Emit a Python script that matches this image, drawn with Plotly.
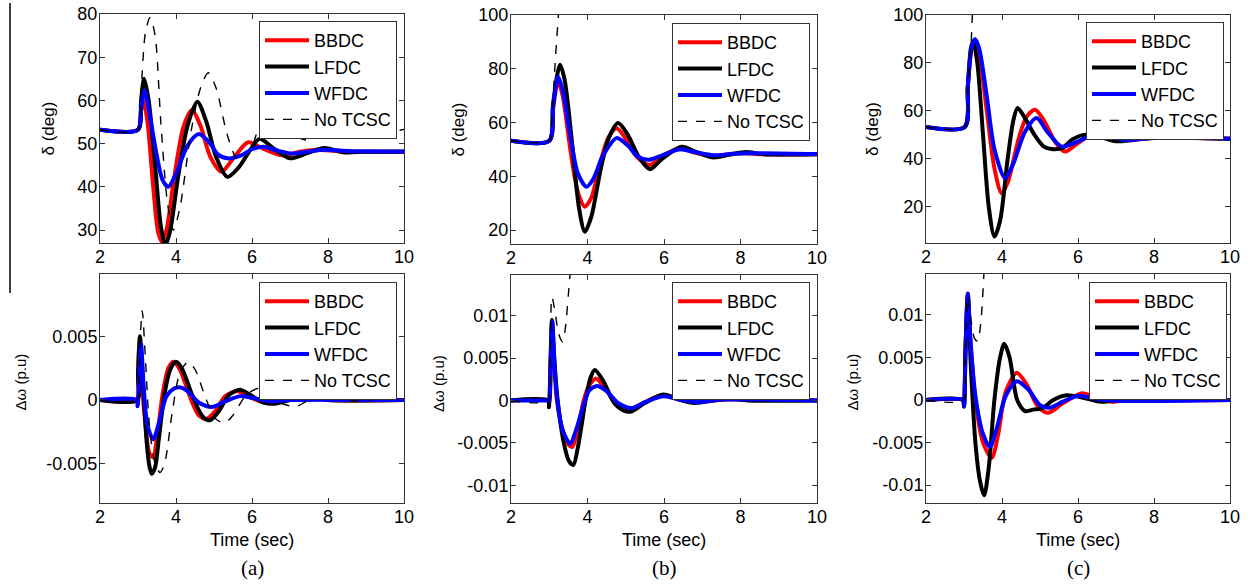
import plotly.graph_objects as go

# ---- data: (time [s], value) pairs ----
# panel (a) rotor angle delta (deg)
A_DELTA_BBDC = [(2, 53.2), (3.0, 53.2), (3.07, 57), (3.14, 60), (3.25, 55), (3.4, 40), (3.53, 29.5), (3.63, 27.3),
                (3.75, 30), (3.95, 42), (4.2, 54), (4.42, 57.8), (4.65, 54), (4.9, 47), (5.2, 43.5), (5.5, 46.5),
                (5.9, 50.3), (6.3, 48.8), (6.8, 47.3), (7.3, 48.2), (7.7, 48.6), (8.3, 48.2), (9, 48.1), (10, 48.1)]
A_DELTA_LFDC = [(2, 53.2), (3.0, 53.2), (3.08, 60), (3.16, 65), (3.28, 60), (3.45, 45), (3.6, 31), (3.72, 26.5),
                (3.85, 30), (4.05, 42), (4.3, 54), (4.56, 59.7), (4.8, 55), (5.05, 47), (5.35, 42.3), (5.65, 44.5),
                (5.95, 48.5), (6.2, 51.1), (6.55, 49), (7.0, 46.6), (7.45, 47.8), (7.9, 49), (8.4, 48), (9, 48.1),
                (10, 48.1)]
A_DELTA_WFDC = [(2, 53.2), (3.0, 53.2), (3.08, 58), (3.17, 62.3), (3.3, 57), (3.5, 47), (3.65, 41.5), (3.8, 40),
                (4.0, 43), (4.3, 49.5), (4.6, 52.2), (4.9, 50), (5.1, 47.5), (5.35, 46.6), (5.7, 47.2), (6.0, 48.7),
                (6.3, 49.3), (6.7, 48.3), (7.05, 47.7), (7.5, 48.2), (7.9, 48.6), (8.5, 48.3), (10, 48.2)]
A_DELTA_NOTCSC = [(2, 53.2), (3.0, 53.2), (3.08, 62), (3.2, 76), (3.32, 79.2), (3.45, 75), (3.6, 55), (3.78, 36),
                  (3.93, 30), (4.1, 35), (4.4, 53), (4.65, 63), (4.85, 66.4), (5.05, 63), (5.35, 52), (5.6, 46.5),
                  (5.77, 46.2), (5.95, 48), (6.2, 54), (6.5, 57), (6.8, 55.5), (7.1, 52), (7.48, 50.8), (7.9, 52.5),
                  (8.45, 54.5), (8.9, 53.5), (9.32, 52.4), (9.7, 52.8), (10, 53.3)]

# panel (a) speed deviation (p.u)
A_DW_BBDC = [(2, 0), (2.97, 0), (3.0, 0.0015), (3.03, 0.004), (3.08, 0.002), (3.2, -0.002), (3.3, -0.0042),
             (3.4, -0.0045), (3.5, -0.003), (3.65, 0.0005), (3.8, 0.0025), (3.93, 0.003), (4.1, 0.0024), (4.4, 0.0),
             (4.6, -0.0012), (4.8, -0.0015), (5.0, -0.001), (5.3, 0.0003), (5.6, 0.0007), (5.9, 0.0003),
             (6.2, -0.0001), (6.5, -0.0002), (7.0, 0.0), (7.5, 0.0002), (8, 0.0), (10, 0)]
A_DW_LFDC = [(2, 0), (2.98, 0), (3.0, 0.002), (3.05, 0.005), (3.12, 0.002), (3.22, -0.003), (3.3, -0.0052),
             (3.36, -0.0058), (3.45, -0.0053), (3.55, -0.003), (3.7, 0.0005), (3.85, 0.0024), (4.0, 0.003),
             (4.15, 0.0025), (4.45, 0.0002), (4.7, -0.0013), (4.89, -0.0016), (5.1, -0.001), (5.4, 0.0004),
             (5.68, 0.0008), (5.95, 0.0004), (6.3, -0.0002), (6.6, -0.0003), (7.0, 0.0), (7.5, 0.0002), (8, 0.0),
             (10, 0)]
A_DW_WFDC = [(2, 0), (2.96, 0), (2.99, -0.0005), (3.02, 0.001), (3.08, 0.0044), (3.15, 0.001), (3.25, -0.002),
             (3.4, -0.0031), (3.55, -0.0018), (3.75, 0.0003), (3.95, 0.0009), (4.1, 0.001), (4.3, 0.0007),
             (4.6, -0.0002), (4.94, -0.00055), (5.3, -0.0001), (5.7, 0.0003), (6.1, 0.0001), (6.5, -0.0001),
             (7, 0.0), (10, 0)]
A_DW_NOTCSC = [(2, 0), (2.98, 0), (3.02, 0.002), (3.11, 0.007), (3.2, 0.003), (3.3, -0.002), (3.45, -0.005),
               (3.58, -0.0057), (3.7, -0.005), (3.9, -0.001), (4.1, 0.0021), (4.32, 0.003), (4.5, 0.0024),
               (4.8, 0.0), (5.05, -0.0015), (5.29, -0.0018), (5.5, -0.0012), (5.85, 0.0004), (6.17, 0.0009),
               (6.5, 0.0003), (6.8, -0.0003), (7.17, -0.0005), (7.5, 0.0), (7.9, 0.0003), (8.3, 0.0001),
               (8.8, -0.0001), (9.3, 0.0001), (10, 0)]

# panel (b)
B_DELTA_BBDC = [(2, 53.2), (3.0, 53.2), (3.1, 65), (3.23, 75.3), (3.35, 70), (3.55, 50), (3.75, 34), (3.93, 28.7),
                (4.1, 32), (4.35, 46), (4.55, 54.5), (4.76, 57.9), (5.0, 54), (5.3, 47), (5.63, 44.2), (5.95, 47.5),
                (6.41, 50.4), (6.8, 48.8), (7.25, 47.5), (7.7, 48.2), (8.1, 48.6), (8.6, 48.2), (10, 48.2)]
B_DELTA_LFDC = [(2, 53.2), (3.0, 53.2), (3.1, 67), (3.28, 81.5), (3.4, 76), (3.6, 52), (3.78, 28), (3.93, 19.4),
                (4.1, 25), (4.35, 43), (4.55, 54), (4.8, 59.8), (5.05, 55.5), (5.35, 47), (5.63, 42.6), (5.95, 46.5),
                (6.46, 51), (6.85, 49), (7.3, 47), (7.7, 48), (8.15, 49), (8.6, 48.2), (10, 48.2)]
B_DELTA_WFDC = [(2, 53.2), (3.0, 53.2), (3.1, 66), (3.23, 77.1), (3.35, 72), (3.55, 55), (3.75, 41), (3.97, 36.1),
                (4.15, 39), (4.4, 47.5), (4.76, 54.2), (5.05, 51.5), (5.3, 47.5), (5.6, 46.1), (5.95, 47.8),
                (6.4, 50), (6.8, 49), (7.3, 47.8), (7.8, 48.4), (8.2, 48.6), (10, 48.3)]
B_DELTA_NOTCSC = [(2, 53.2), (3.0, 53.2), (3.06, 60), (3.14, 79), (3.2, 92), (3.24, 100), (3.27, 110)]

B_DW_BBDC = [(2, 0), (2.97, 0), (3.0, -0.0003), (3.03, 0.004), (3.07, 0.0085), (3.12, 0.005), (3.2, 0.0),
             (3.35, -0.0035), (3.5, -0.0052), (3.6, -0.0055), (3.72, -0.004), (3.9, 0.0), (4.05, 0.0018),
             (4.22, 0.0026), (4.45, 0.0015), (4.75, -0.0004), (5.1, -0.0011), (5.5, -0.0002), (5.95, 0.0006),
             (6.4, 0.0001), (6.8, -0.0002), (7.3, 0.0), (7.7, 0.0001), (10, 0)]
B_DW_LFDC = [(2, 0), (2.97, 0), (2.99, -0.0008), (3.02, 0.002), (3.07, 0.0095), (3.13, 0.005), (3.22, 0.0),
             (3.38, -0.005), (3.52, -0.0072), (3.63, -0.0076), (3.75, -0.0055), (3.95, 0.0), (4.08, 0.0027),
             (4.19, 0.0036), (4.4, 0.0024), (4.7, -0.0003), (4.95, -0.0012), (5.15, -0.0013), (5.5, -0.0003),
             (5.98, 0.0007), (6.4, 0.0001), (6.8, -0.0003), (7.3, 0.0), (7.7, 0.0002), (8.2, 0), (10, 0)]
B_DW_WFDC = [(2, 0), (2.97, 0), (3.0, 0.0), (3.04, 0.005), (3.08, 0.0093), (3.13, 0.005), (3.2, 0.0005),
             (3.35, -0.0035), (3.55, -0.0051), (3.7, -0.0035), (3.9, -0.0005), (4.05, 0.0012), (4.25, 0.0017),
             (4.5, 0.0011), (4.8, -0.0003), (5.15, -0.0009), (5.5, -0.0002), (6.0, 0.0005), (6.4, 0.0001),
             (6.9, -0.0002), (7.5, 0.0001), (10, 0)]
B_DW_NOTCSC = [(2, 0), (2.98, 0), (3.02, 0.004), (3.07, 0.0122), (3.15, 0.0105), (3.25, 0.0078), (3.35, 0.0069),
               (3.42, 0.0085), (3.5, 0.0125), (3.56, 0.016), (3.6, 0.02)]

# panel (c)
C_DELTA_BBDC = [(2, 53.2), (3.02, 53.2), (3.1, 70), (3.2, 86), (3.29, 89.7), (3.4, 84), (3.6, 60), (3.8, 36),
                (3.99, 25.5), (4.15, 30), (4.45, 49), (4.65, 57.5), (4.87, 60.4), (5.1, 56), (5.4, 47), (5.66, 42.9),
                (6.0, 46.5), (6.49, 50.9), (6.9, 49), (7.3, 47.5), (7.8, 48.5), (8.2, 48.8), (10, 48.3)]
C_DELTA_LFDC = [(2, 53.2), (3.02, 53.2), (3.1, 70), (3.18, 86), (3.24, 89), (3.35, 80), (3.5, 50), (3.65, 20),
                (3.8, 7.4), (3.95, 14), (4.15, 40), (4.3, 56), (4.41, 61.1), (4.6, 57), (4.85, 50), (5.1, 45),
                (5.3, 44), (5.6, 44.5), (5.85, 48), (6.14, 49.9), (6.5, 49.5), (7.0, 47.2), (7.5, 48), (8.0, 48.6),
                (10, 48.3)]
C_DELTA_WFDC = [(2, 53.2), (3.02, 53.2), (3.1, 70), (3.2, 86.5), (3.29, 90), (3.4, 86), (3.6, 66), (3.8, 44),
                (4.08, 31.8), (4.3, 38), (4.6, 51), (4.91, 56.9), (5.2, 51), (5.57, 45), (5.9, 46.5), (6.49, 50.3),
                (6.9, 49), (7.2, 47.8), (7.8, 48.4), (8.2, 48.8), (10, 48.3)]
C_DELTA_NOTCSC = [(2, 53.2), (3.02, 53.2), (3.1, 70), (3.18, 86), (3.22, 100), (3.26, 115)]

C_DW_BBDC = [(2, 0), (2.97, 0), (3.0, -0.0005), (3.04, 0.006), (3.1, 0.0125), (3.17, 0.007), (3.3, 0.0),
             (3.5, -0.005), (3.73, -0.0068), (3.9, -0.004), (4.1, 0.001), (4.39, 0.0032), (4.65, 0.0018),
             (4.95, -0.0008), (5.22, -0.0015), (5.6, -0.0004), (6.1, 0.0008), (6.5, 0.0002), (6.9, -0.0002),
             (7.5, 0.0002), (8, 0), (10, 0)]
C_DW_LFDC = [(2, 0), (2.97, 0), (3.0, -0.0008), (3.04, 0.006), (3.1, 0.012), (3.18, 0.004), (3.3, -0.005),
             (3.42, -0.0095), (3.53, -0.0112), (3.65, -0.008), (3.8, 0.0), (3.95, 0.005), (4.06, 0.0066),
             (4.2, 0.005), (4.4, 0.0), (4.61, -0.0013), (4.85, -0.0011), (5.05, -0.001), (5.35, 0.0),
             (5.7, 0.00055), (6.1, 0.0003), (6.6, -0.0002), (7.2, 0.0001), (8, 0), (10, 0)]
C_DW_WFDC = [(2, 0), (2.97, 0), (3.0, -0.0007), (3.04, 0.006), (3.1, 0.0125), (3.17, 0.007), (3.3, 0.0005),
             (3.5, -0.004), (3.68, -0.0055), (3.85, -0.0035), (4.1, 0.0005), (4.39, 0.0022), (4.7, 0.0012),
             (5.0, -0.0006), (5.25, -0.0009), (5.6, -0.0002), (6.0, 0.0005), (6.5, 0.0001), (7.0, -0.0001), (10, 0)]
C_DW_NOTCSC = [(2, 0), (2.98, 0), (3.03, 0.004), (3.1, 0.0122), (3.18, 0.0095), (3.28, 0.0072), (3.36, 0.0069),
               (3.44, 0.009), (3.52, 0.0145), (3.56, 0.019)]

SERIES_NAMES = ['BBDC', 'LFDC', 'WFDC', 'No TCSC']
SERIES_COLORS = ['#ff0000', '#000000', '#0000ff', '#000000']

PANELS = [
    [A_DELTA_BBDC, A_DELTA_LFDC, A_DELTA_WFDC, A_DELTA_NOTCSC],
    [A_DW_BBDC, A_DW_LFDC, A_DW_WFDC, A_DW_NOTCSC],
    [B_DELTA_BBDC, B_DELTA_LFDC, B_DELTA_WFDC, B_DELTA_NOTCSC],
    [B_DW_BBDC, B_DW_LFDC, B_DW_WFDC, B_DW_NOTCSC],
    [C_DELTA_BBDC, C_DELTA_LFDC, C_DELTA_WFDC, C_DELTA_NOTCSC],
    [C_DW_BBDC, C_DW_LFDC, C_DW_WFDC, C_DW_NOTCSC],
]

W, H = 1249, 588
FONT = 'Liberation Sans, Arial, sans-serif'

# pixel boxes of each axes: left, right, top, bottom
BOXES = [
    (100, 404, 14, 243), (100, 404, 274, 503),
    (511, 817, 15, 244), (511, 817, 275, 503),
    (926, 1230, 15, 243), (926, 1230, 274, 503),
]
Y_RANGES = [[27, 80], [-0.0081, 0.0099], [14.8, 100], [-0.0121, 0.0148], [4.7, 100], [-0.0121, 0.0148]]
Y_TICKS = [[30, 40, 50, 60, 70, 80], [-0.005, 0, 0.005, 0.01], [20, 40, 60, 80, 100],
           [-0.01, -0.005, 0, 0.005, 0.01], [20, 40, 60, 80, 100], [-0.01, -0.005, 0, 0.005, 0.01]]
Y_TICKTEXT = [['30', '40', '50', '60', '70', '80'], ['-0.005', '0', '0.005', '0.01'], ['20', '40', '60', '80', '100'],
              ['-0.01', '-0.005', '0', '0.005', '0.01'], ['20', '40', '60', '80', '100'],
              ['-0.01', '-0.005', '0', '0.005', '0.01']]
# legend boxes (right, top) in pixels
LEGEND_POS = [(397, 21), (397, 282), (810, 23), (810, 282), (1224, 22), (1227, 282)]
YTITLE_X = [48, 20, 458, 438, 873, 852]

fig = go.Figure()
layout = dict(width=W, height=H, margin=dict(l=0, r=0, t=0, b=0, autoexpand=False),
              paper_bgcolor='white', plot_bgcolor='white', showlegend=True,
              font=dict(family=FONT, color='black'))
annotations = []

for i, series in enumerate(PANELS):
    k = i + 1
    xa = 'x' if k == 1 else f'x{k}'
    ya = 'y' if k == 1 else f'y{k}'
    lg = 'legend' if k == 1 else f'legend{k}'
    for j, pts in enumerate(series):
        dashed = j == 3
        fig.add_trace(go.Scatter(
            x=[p[0] for p in pts], y=[p[1] for p in pts],
            mode='lines', name=SERIES_NAMES[j], xaxis=xa, yaxis=ya, legend=lg,
            line=dict(color=SERIES_COLORS[j], width=1.4 if dashed else 4,
                      dash='dash' if dashed else 'solid', shape='spline', smoothing=0.8),
            hoverinfo='skip'))

    left, right, top, bottom = BOXES[i]
    axis_common = dict(showline=True, linecolor='#333', linewidth=1, mirror='ticks', ticks='inside',
                       ticklen=5, tickcolor='#333', showgrid=False, zeroline=False, automargin=False,
                       tickfont=dict(size=18, family=FONT, color='black'))
    layout['xaxis' if k == 1 else f'xaxis{k}'] = dict(
        axis_common, domain=[left / W, right / W], range=[2, 10], tickvals=[2, 4, 6, 8, 10],
        anchor=ya, ticklabelstandoff=-3)
    layout['yaxis' if k == 1 else f'yaxis{k}'] = dict(
        axis_common, domain=[1 - bottom / H, 1 - top / H], range=Y_RANGES[i], tickvals=Y_TICKS[i],
        ticktext=Y_TICKTEXT[i], anchor=xa, ticklabelstandoff=-2)

    lx, ly = LEGEND_POS[i]
    layout[lg] = dict(x=lx / W, y=1 - ly / H, xanchor='right', yanchor='top', bgcolor='white',
                      bordercolor='#333', borderwidth=1, font=dict(size=18, family=FONT),
                      tracegroupgap=0, traceorder='normal', itemwidth=44)

    ycen = (top + bottom) / 2 if i % 2 == 0 else (top + bottom) / 2 - 6
    annotations.append(dict(x=YTITLE_X[i] / W, y=1 - ycen / H, xref='paper', yref='paper',
                            text='δ (deg)' if i % 2 == 0 else 'Δω (p.u)', textangle=-90, showarrow=False,
                            font=dict(size=17 if i % 2 == 0 else 15, family=FONT), xanchor='center',
                            yanchor='middle'))
    if i % 2 == 1:
        xc = (left + right) / 2
        annotations.append(dict(x=xc / W, y=1 - 540 / H, xref='paper', yref='paper', text='Time (sec)',
                                showarrow=False, font=dict(size=18, family=FONT), xanchor='center',
                                yanchor='middle'))
        annotations.append(dict(x=xc / W, y=1 - 568 / H, xref='paper', yref='paper',
                                text='(' + 'abc'[i // 2] + ')', showarrow=False,
                                font=dict(size=21, family='Liberation Serif, Times New Roman, serif'),
                                xanchor='center', yanchor='middle'))

layout['annotations'] = annotations
# stray vertical rule at the far left of the scanned page
layout['shapes'] = [dict(type='line', xref='paper', yref='paper', x0=10 / W, x1=10 / W,
                         y0=1 - 3 / H, y1=1 - 293 / H, line=dict(color='black', width=1.5))]
fig.update_layout(**layout)

fig.write_html('out.html', config={'displayModeBar': False},
               post_script="document.body.style.margin='0';")
